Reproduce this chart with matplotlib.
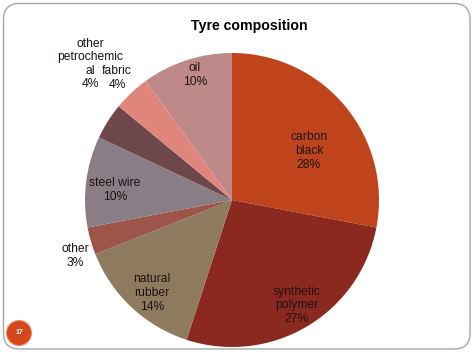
import matplotlib
matplotlib.use("Agg")
import matplotlib.pyplot as plt
from matplotlib.patches import FancyBboxPatch, Circle

plt.rcParams['font.family'] = ['Liberation Sans', 'DejaVu Sans']

# data
labels = ["carbon\nblack", "synthetic\npolymer", "natural\nrubber", "other",
          "steel wire", "other\npetrochemic\nal", "fabric", "oil"]
shares = [28, 27, 14, 3, 10, 4, 4, 10]
colors = ["#C0441B", "#8B2820", "#8E7B5E", "#9C5548",
          "#8A7E86", "#6E474B", "#E0857C", "#BE8988"]
# label anchor positions in pixel coords (x, y from top)
label_pos = [(309, 151), (297, 305), (152, 293), (75, 256),
             (115, 190), (90, 64), (117, 78), (195, 75)]

W, H = 474, 355
fig = plt.figure(figsize=(W / 100, H / 100), dpi=100)
ax = fig.add_axes([0, 0, 1, 1])

# slide frame
frame = FancyBboxPatch((3.5, H - 349), 466.5, 345.5,
                       boxstyle="round,pad=0,rounding_size=16",
                       facecolor="white", edgecolor="#A6A6A6", linewidth=1.0)
ax.add_patch(frame)

cx, cy, r = 232, H - 200, 147
wedges, _ = ax.pie(shares, colors=colors, startangle=90, counterclock=False,
                   center=(cx, cy), radius=r, frame=True,
                   wedgeprops=dict(linewidth=0))
for w in wedges:
    w.set_clip_path(frame)

# each label line drawn on its own, 13.5 px apart
step = 13.5
for lab, s, (x, y) in zip(labels, shares, label_pos):
    lines = f"{lab}\n{s}%".split("\n")
    n = len(lines)
    for i, line in enumerate(lines):
        yy = y + (i - (n - 1) / 2) * step
        ax.text(x, H - yy, line, ha="center", va="center",
                fontsize=8.7, color="#1F1414")

ax.text(249, H - 26, "Tyre composition", ha="center", va="center",
        fontsize=10.2, fontweight="bold", color="black")

# page number badge
ax.add_patch(Circle((19, H - 333), 12.5, facecolor="#D5461C",
                    edgecolor="#E8906E", linewidth=0.8))
ax.text(19, H - 333, "17", ha="center", va="center", fontsize=5,
        fontweight="bold", color="white")

ax.set_xlim(0, W)
ax.set_ylim(0, H)
ax.set_aspect("equal")
ax.axis("off")

fig.savefig("out.png", dpi=100)
